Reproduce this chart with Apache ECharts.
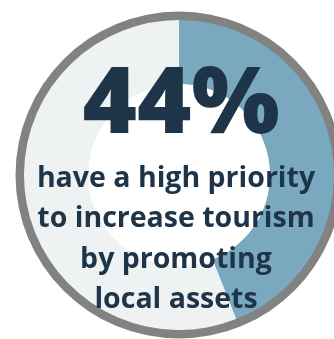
<!DOCTYPE html>
<html>
<head>
<meta charset="utf-8">
<style>
  html, body { margin: 0; padding: 0; background: #ffffff; }
  #chart { width: 334px; height: 339px; }
</style>
<script src="https://cdn.jsdelivr.net/npm/echarts@6/dist/echarts.min.js"></script>
</head>
<body>
<div id="chart"></div>
<script>
// Share of respondents and the remainder
const categories = ['High priority', 'Other'];
const shareValues = [44, 56];
const headline = '44%';
const captionLines = ['have a high priority', 'to increase tourism', 'by promoting', 'local assets'];

const sliceColors = ['#7aa9bf', '#eef2f2'];
const ink = '#1e3448';

const chart = echarts.init(document.getElementById('chart'), null, { renderer: 'canvas' });

const center = [179, 175];
const captionTop = 164;
const lineStep = 40.5;

chart.setOption({
  animation: false,
  series: [
    {
      // outer grey frame
      type: 'pie',
      center: center,
      radius: [154, 163.5],
      silent: true,
      label: { show: false },
      labelLine: { show: false },
      itemStyle: { color: '#828282' },
      data: [{ name: 'frame', value: 1 }]
    },
    {
      type: 'pie',
      center: center,
      radius: [91, 155],
      startAngle: 90,
      clockwise: true,
      silent: true,
      label: { show: false },
      labelLine: { show: false },
      data: categories.map((name, i) => ({
        name,
        value: shareValues[i],
        itemStyle: { color: sliceColors[i] }
      }))
    }
  ],
  graphic: [
    {
      type: 'text',
      z: 100,
      x: 181,
      y: 60,
      style: {
        text: headline,
        fill: ink,
        font: '800 93px "Open Sans", "Noto Sans", sans-serif',
        textAlign: 'center',
        textVerticalAlign: 'top'
      }
    }
  ].concat(captionLines.map((line, i) => ({
    type: 'text',
    z: 100,
    x: 176,
    y: captionTop + i * lineStep,
    style: {
      text: line,
      fill: ink,
      font: '700 28.5px "Open Sans", "Noto Sans", sans-serif',
      textAlign: 'center',
      textVerticalAlign: 'top'
    }
  })))
});
</script>
</body>
</html>
